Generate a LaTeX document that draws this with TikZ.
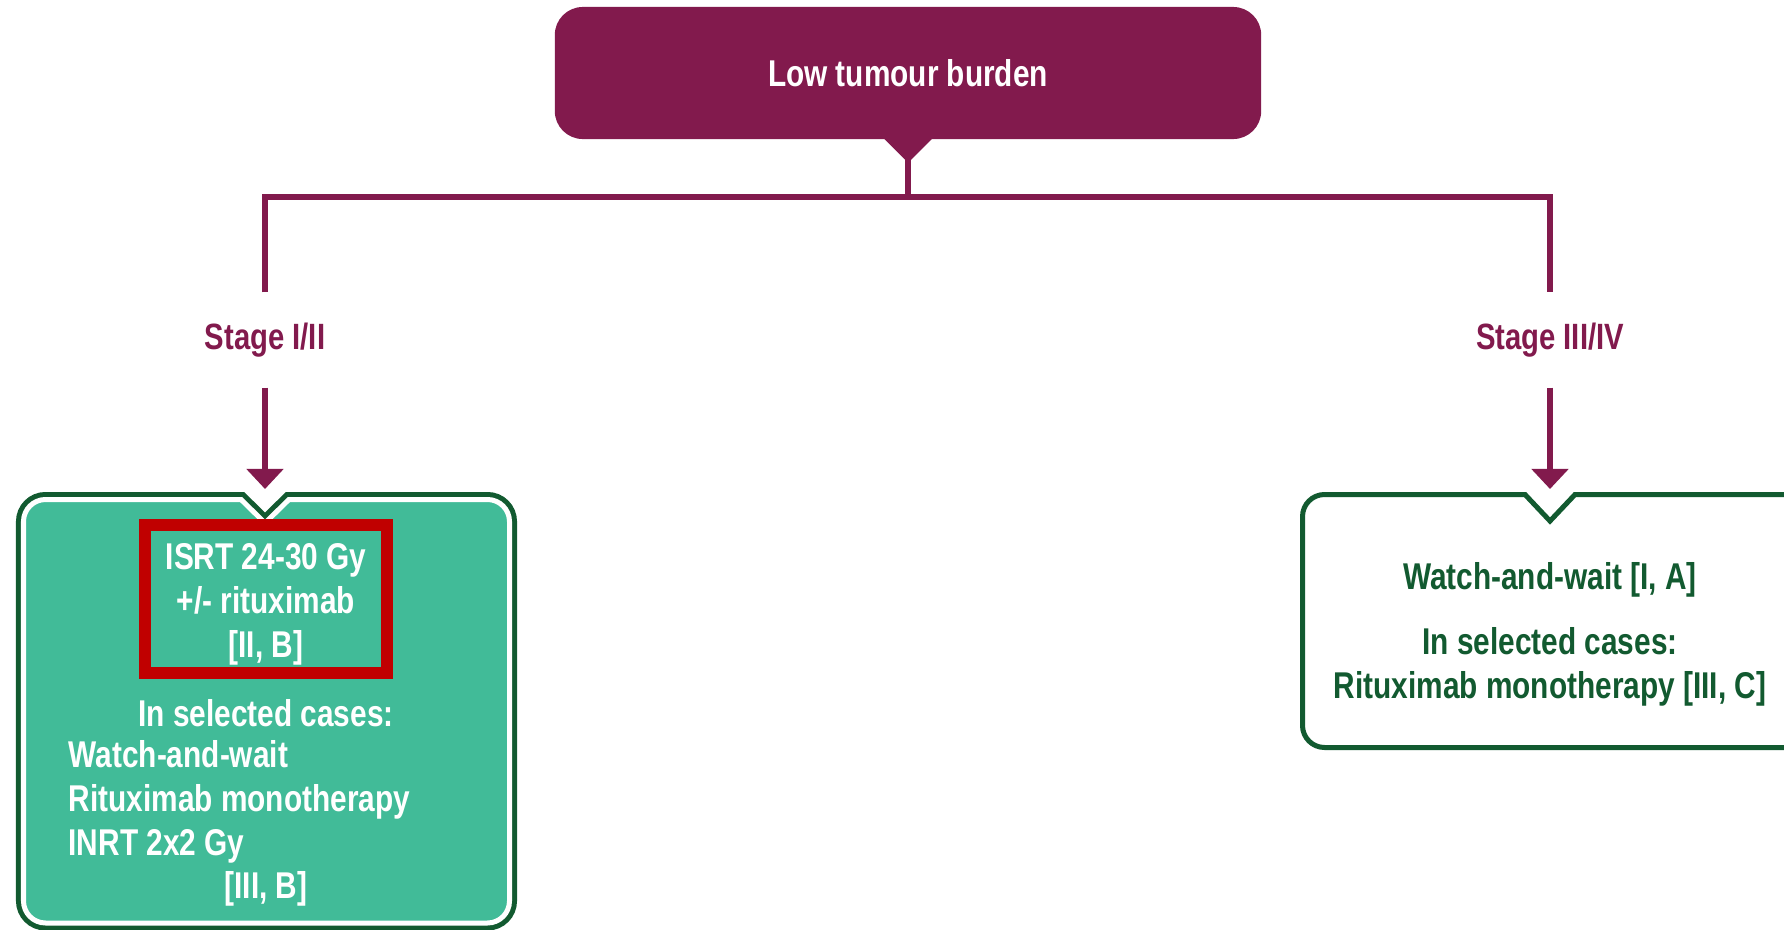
\documentclass[tikz,border=0pt]{standalone}
\usepackage{fontspec}
\newfontfamily\condsans[FakeStretch=0.80]{Liberation Sans}
\usepackage{tikz}
\usetikzlibrary{positioning,
                calc,
                arrows.meta}
\definecolor{burdenred}{HTML}{821A4D}
\definecolor{armgreen}{HTML}{125A30}
\definecolor{armteal}{HTML}{41BB98}
\definecolor{flagred}{HTML}{C00000}

\begin{document}
\begin{tikzpicture}[x=0.01cm,y=-0.01cm]

\tikzset{
headbox/.style={
fill=burdenred,
rounded corners=0.28cm,
minimum width=7.06cm,
minimum height=1.32cm,
text=white,
font=\condsans\bfseries\fontsize{10.6}{12.5}\selectfont
},
stagelabel/.style={
text=burdenred,
minimum height=0.94cm,
inner sep=0pt,
font=\condsans\bfseries\fontsize{10.4}{12.5}\selectfont
},
trunk/.style={
draw=burdenred,
line width=0.055cm
},
armtext/.style={
align=center,
inner sep=0pt,
font=\condsans\bfseries\fontsize{10.6}{12.5}\selectfont
},
flagbox/.style={
draw=flagred,
line width=0.12cm,
minimum width=2.42cm,
minimum height=1.48cm
}
}

\useasboundingbox (0,0) rectangle (1784,930);
\clip (0,0) rectangle (1784,930);

%--------------------------------------------------
% HEADER
%--------------------------------------------------

\node[headbox] (burden) at (908,73) {Low tumour burden};
\fill[burdenred] ($(burden.south)+(-24,-1)$) -- ($(burden.south)+(0,23)$)
  -- ($(burden.south)+(24,-1)$) -- cycle;

\coordinate (fork) at (908,197);

\node[stagelabel] (stageA) at (265,340) {Stage I/II};
\node[stagelabel] (stageB) at (1550,340) {Stage III/IV};

\draw[trunk] (burden.south) -- (fork);
\draw[trunk] (stageA.north) |- (fork) -| (stageB.north);

%--------------------------------------------------
% LEFT ARM
%--------------------------------------------------

\draw[armgreen,line width=0.15cm] (23.5,923) [rounded corners=0.22cm]
  -- (23.5,499.5) [sharp corners] -- (241,499.5) -- (265,523)
  -- (289,499.5) [rounded corners=0.22cm] -- (509.5,499.5)
  -- (509.5,923) -- cycle;
\draw[white,fill=armteal,line width=0.05cm] (23.5,923) [rounded corners=0.22cm]
  -- (23.5,499.5) [sharp corners] -- (241,499.5) -- (265,523)
  -- (289,499.5) [rounded corners=0.22cm] -- (509.5,499.5)
  -- (509.5,923) -- cycle;

\coordinate (leftin) at (265,489);

\node[flagbox] (isrtbox) at (266,599) {};
\node[armtext,text=white] (isrt) at (266,604)
  {ISRT 24-30 Gy\\+/- rituximab\\{[II, B]}};
\node[armtext,text=white] (leftsel) at (266,713) {In selected cases:};
\node[armtext,text=white,align=left,anchor=west] (leftopts) at (68,802)
  {Watch-and-wait\\Rituximab monotherapy\\INRT 2x2 Gy};
\node[armtext,text=white] (leftlevel) at (266,889) {[III, B]};

%--------------------------------------------------
% RIGHT ARM
%--------------------------------------------------

\draw[armgreen,fill=white,line width=0.05cm] (1302.5,747.5) [rounded corners=0.22cm]
  -- (1302.5,494.5) [sharp corners] -- (1525,494.5) -- (1550,521)
  -- (1575,494.5) [rounded corners=0.22cm] -- (1850,494.5)
  -- (1850,747.5) -- cycle;

\coordinate (rightin) at (1550,489);

\node[armtext,text=armgreen] (rightwait) at (1550,580) {Watch-and-wait [I, A]};
\node[armtext,text=armgreen] (rightsel) at (1550,667)
  {In selected cases:\\Rituximab monotherapy [III, C]};

%--------------------------------------------------
% ARROWS
%--------------------------------------------------

\draw[trunk,-{Triangle[width=0.36cm,length=0.2cm]}] (stageA.south) -- (leftin);
\draw[trunk,-{Triangle[width=0.36cm,length=0.2cm]}] (stageB.south) -- (rightin);

\end{tikzpicture}
\end{document}
